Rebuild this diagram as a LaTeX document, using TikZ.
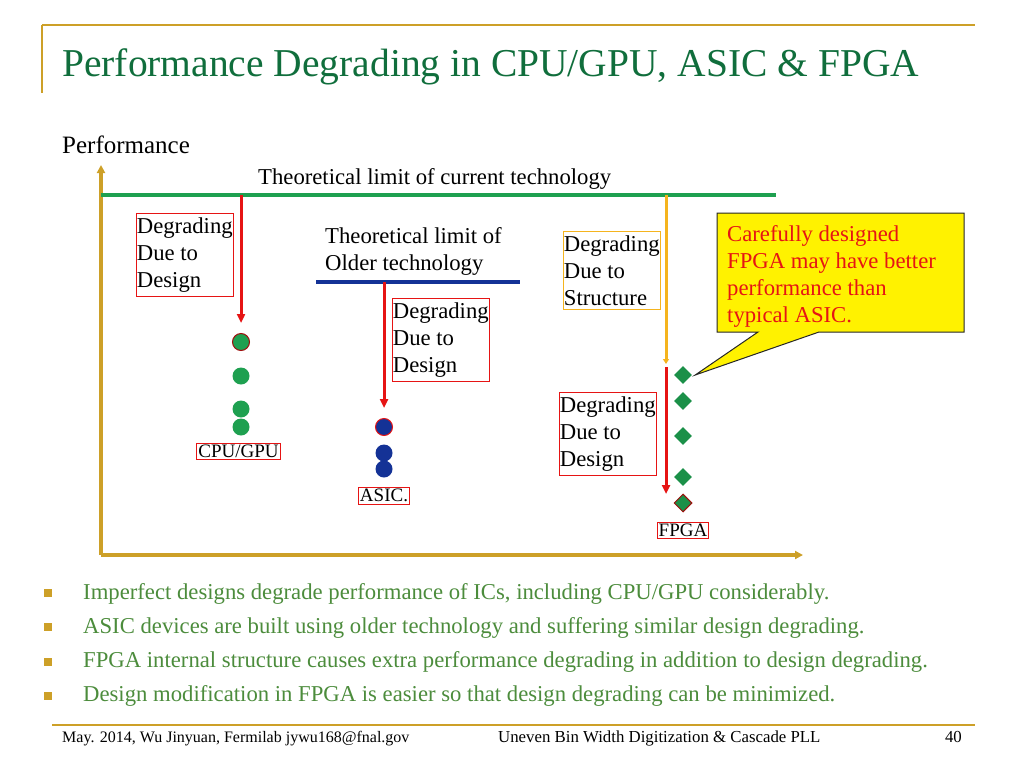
\documentclass[tikz,border=0pt]{standalone}
\usepackage{fontspec}
\setmainfont{Liberation Serif}
\usetikzlibrary{positioning,shapes.geometric,arrows.meta}
\definecolor{slidegold}{RGB}{205,160,40}
\definecolor{titlegreen}{RGB}{16,110,60}
\definecolor{textgreen}{RGB}{76,140,60}
\definecolor{limgreen}{RGB}{30,160,80}
\definecolor{oldblue}{RGB}{20,50,150}
\definecolor{degred}{RGB}{230,20,20}
\definecolor{structorange}{RGB}{245,180,30}
\newcommand\chartfont{\fontsize{22.7}{27}\selectfont}
\newcommand\tagfont{\fontsize{19}{22}\selectfont}
\begin{document}
\begin{tikzpicture}[x=1pt,y=-1pt,
  axis/.style={slidegold,line width=3.5pt,-{Triangle[length=8pt,width=8pt]}},
  degarrow/.style={degred,line width=3pt,-{Triangle[length=9pt,width=8pt]}},
  structarrow/.style={structorange,line width=3pt,-{Triangle[length=5pt,width=6pt]}},
  degbox/.style={draw=degred,line width=0.8pt,align=left,font=\chartfont,inner xsep=0.5pt,inner ysep=4pt,anchor=north west},
  tagbox/.style={draw=degred,line width=0.8pt,font=\tagfont,inner xsep=1.5pt,inner ysep=2pt},
  cpudot/.style={circle,fill=limgreen,minimum size=17pt,inner sep=0pt},
  asicdot/.style={circle,fill=oldblue,minimum size=17pt,inner sep=0pt},
  fpgadot/.style={diamond,fill=limgreen!90!black,minimum size=18pt,inner sep=0pt},
  bullet/.style={rectangle,fill=slidegold,minimum size=8pt,inner sep=0pt}]
\useasboundingbox (0,0) rectangle (1024,768);
\draw[slidegold,line width=2.5pt] (42,25) -- (975,25);
\draw[slidegold,line width=2pt] (42,25) -- (42,93);
\node[anchor=base west,inner sep=0pt,text=titlegreen,font=\fontsize{39.5}{46}\selectfont] (title) at (62,77) {Performance Degrading in CPU/GPU, ASIC \& FPGA};
\coordinate (O) at (101,555);
\draw[axis] (O) -- (101,165);
\draw[axis] (O) -- (803,555);
\node[anchor=base west,inner sep=0pt,font=\fontsize{25}{29}\selectfont] (perf) at (62,153) {Performance};
\coordinate (curL) at (101,195);
\coordinate (curR) at (776,195);
\draw[limgreen,line width=4.5pt] (curL) -- (curR);
\node[anchor=base west,inner sep=0pt,font=\chartfont] (curtext) at (258,184) {Theoretical limit of current technology};
\coordinate (oldL) at (316,282);
\coordinate (oldR) at (520,282);
\draw[oldblue,line width=4pt] (oldL) -- (oldR);
\node[anchor=north west,inner sep=0pt,align=left,font=\chartfont] (oldtext) at (325,227) {Theoretical limit of\\Older technology};
\node[cpudot,draw=degred!70!black,line width=1pt] (c1) at (241,342) {};
\node[cpudot] (c2) at (241,376) {};
\node[cpudot] (c3) at (241,409) {};
\node[cpudot] (c4) at (241,427) {};
\node[asicdot,draw=degred,line width=1pt] (a1) at (384,427) {};
\node[asicdot] (a2) at (384,453) {};
\node[asicdot] (a3) at (384,469) {};
\node[fpgadot] (d1) at (683,375) {};
\node[fpgadot] (d2) at (683,401) {};
\node[fpgadot] (d3) at (683,436) {};
\node[fpgadot] (d4) at (683,477) {};
\node[fpgadot,draw=degred!70!black,line width=1pt] (d5) at (683,503) {};
\node[degbox] (cpudeg) at (136,213) {Degrading\\Due to\\Design};
\node[degbox] (asicdeg) at (392,298) {Degrading\\Due to\\Design};
\node[degbox,draw=structorange] (fpgastruct) at (563,231) {Degrading\\Due to\\Structure};
\node[degbox] (fpgadeg) at (559,392) {Degrading\\Due to\\Design};
\node[tagbox,below=7pt of c4,xshift=-2.5pt] (cpu) {CPU/GPU};
\node[tagbox,below=9pt of a3] (asic) {ASIC.};
\node[tagbox,below=9pt of d5] (fpga) {FPGA};
\draw[degarrow] (curL -| c1) -- ([yshift=10pt]c1.north);
\draw[degarrow] (oldL -| a1) -- ([yshift=10pt]a1.north);
\coordinate (sb) at (666,364);
\coordinate (fe) at (666,494);
\draw[structarrow] (curL -| sb) -- (sb);
\draw[degarrow] ([yshift=-3pt]sb) -- (fe);
\filldraw[fill=yellow,draw=black!85,line width=1pt] (717,213) -- (964,213) -- (964,332) -- (819,332) -- ([xshift=3pt]d1.east) -- (758,332) -- (717,332) -- cycle;
\node[anchor=north west,inner sep=0pt,align=left,text=degred,font=\chartfont] (note) at (727,225) {Carefully designed\\FPGA may have better\\performance than\\typical ASIC.};
\foreach \txt [count=\i] in {{Imperfect designs degrade performance of ICs, including CPU/GPU considerably.},
  {ASIC devices are built using older technology and suffering similar design degrading.},
  {FPGA internal structure causes extra performance degrading in addition to design degrading.},
  {Design modification in FPGA is easier so that design degrading can be minimized.}}{
  \node[bullet] (sq\i) at (48,593+34.3*\i-34.3) {};
  \node[anchor=base west,inner sep=0pt,text=textgreen,font=\fontsize{22.7}{26}\selectfont] (b\i) at (83,599+34.3*\i-34.3) {\txt};
}
\draw[slidegold,line width=2.5pt] (52,725) -- (975,725);
\node[anchor=base west,inner sep=0pt,font=\fontsize{16}{20}\selectfont] (foot1) at (62,742) {May. 2014, Wu Jinyuan, Fermilab jywu168@fnal.gov};
\node[anchor=base west,inner sep=0pt,font=\fontsize{16.8}{20}\selectfont] (foot2) at (498,742) {Uneven Bin Width Digitization \& Cascade PLL};
\node[anchor=base east,inner sep=0pt,font=\fontsize{16.8}{20}\selectfont] (foot3) at (962,742) {40};
\end{tikzpicture}
\end{document}
